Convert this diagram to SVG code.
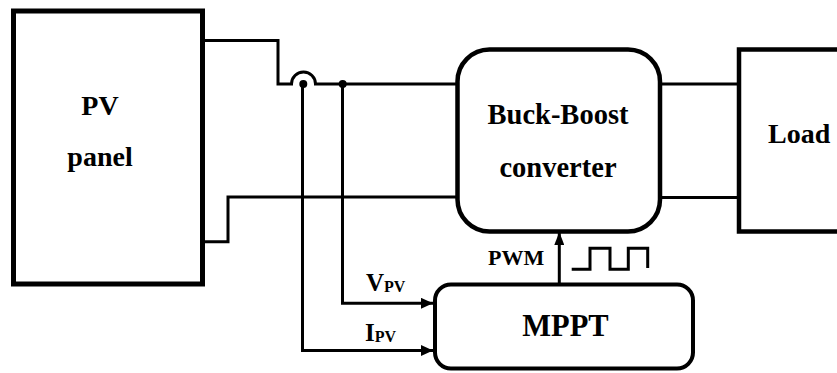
<svg xmlns="http://www.w3.org/2000/svg" width="837" height="373" viewBox="0 0 837 373">
<style>
.box{fill:#fff;stroke:#000}
.w{fill:none;stroke:#000;stroke-width:3;stroke-linejoin:miter}
text{font-family:'Liberation Serif','Times New Roman',serif;font-weight:bold;fill:#000}
</style>
<defs>
<marker id="ah" viewBox="0 0 12 11" refX="12" refY="5.5" markerWidth="12" markerHeight="11" markerUnits="userSpaceOnUse" orient="auto">
<path d="M0,0 L12,5.5 L0,11 Z" fill="#000"/>
</marker>
<marker id="ahu" viewBox="0 0 13 10" refX="13" refY="5" markerWidth="13" markerHeight="10" markerUnits="userSpaceOnUse" orient="auto">
<path d="M0,0 L13,5 L0,10 Z" fill="#000"/>
</marker>
</defs>
<rect width="837" height="373" fill="#fff"/>
<g id="connectors">
<path class="w" d="M204,40.5 H278 V84 H291.5 A12,12 0 0 1 315.5,84 H458"/>
<path class="w" d="M204,241.7 H228 V197 H458"/>
<path class="w" d="M659,84 H740"/>
<path class="w" d="M659,197.5 H740"/>
<circle cx="303.3" cy="84" r="4"/>
<circle cx="342.7" cy="84" r="4"/>
<path class="w" d="M342.5,84 V303.3 H433" marker-end="url(#ah)"/>
<path class="w" d="M302.5,84 V350.5 H433" marker-end="url(#ah)"/>
<path class="w" d="M559.3,284 V232" marker-end="url(#ahu)"/>
<path class="w" d="M571.7,269.3 H590 V248.3 H610 V269.3 H628.3 V248.3 H647.7 V268"/>
<text x="366" y="291" font-size="25">V<tspan font-size="16" dy="1">PV</tspan></text>
<text x="365" y="341" font-size="25">I<tspan font-size="16" dy="1">PV</tspan></text>
<text x="488" y="265" font-size="22">PWM</text>
</g>
<g id="pv-panel">
<rect class="box" x="13.5" y="11" width="189" height="273" stroke-width="5"/>
<text x="100" y="115" font-size="28" text-anchor="middle">PV</text>
<text x="100" y="166" font-size="28" text-anchor="middle">panel</text>
</g>
<g id="buck-boost">
<rect class="box" x="457.5" y="49.5" width="202.5" height="182" rx="32" stroke-width="4.5"/>
<text x="558" y="124" font-size="28.5" text-anchor="middle">Buck-Boost</text>
<text x="558" y="177" font-size="28.5" text-anchor="middle">converter</text>
</g>
<g id="load">
<rect class="box" x="739" y="49.5" width="120" height="182" stroke-width="4.5"/>
<text x="768" y="143" font-size="28">Load</text>
</g>
<g id="mppt">
<rect class="box" x="435" y="284.5" width="258" height="84" rx="16" stroke-width="4"/>
<text x="565.5" y="336" font-size="30.5" text-anchor="middle">MPPT</text>
</g>
</svg>
